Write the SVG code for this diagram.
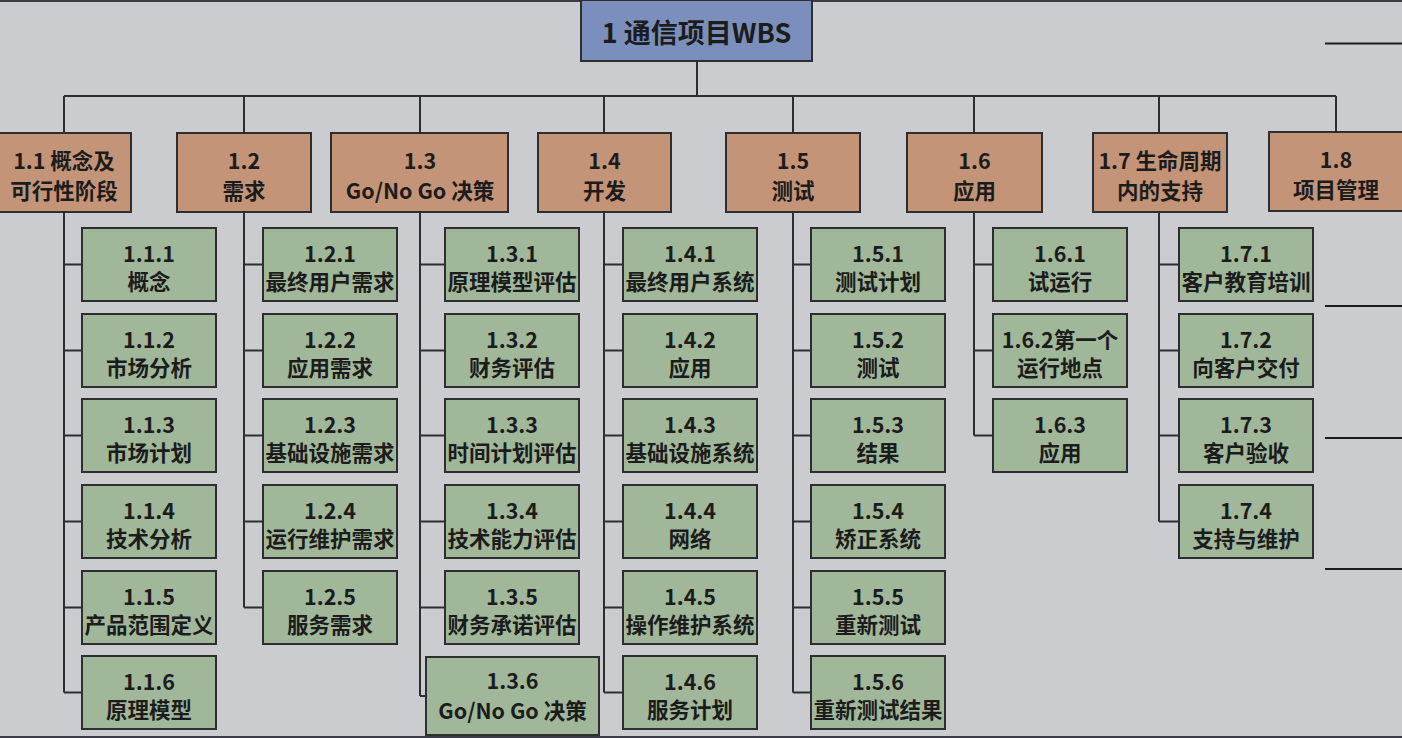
<svg xmlns="http://www.w3.org/2000/svg" width="1402" height="738" viewBox="0 0 1402 738">
<style>
.bg{fill:#cbccd0}
.box{stroke:#2e2e30;stroke-width:2}
.top{fill:#7a8fbb}
.l2{fill:#c49478}
.l3{fill:#a0b79a}
.c{fill:none;stroke:#2e2e30;stroke-width:2}
.rl{fill:none;stroke:#1c1c1e;stroke-width:2}
text{font-family:"Noto Sans CJK SC","Noto Sans",sans-serif;font-weight:bold;fill:#1c1c1c;text-anchor:middle;dominant-baseline:central}
.t2{font-size:21.5px}
.t3{font-size:21.5px}
.t1{font-size:27px}
</style>
<rect class="bg" x="0" y="0" width="1402" height="738"/>
<rect x="0" y="0" width="1402" height="2" fill="#3a3d48"/>
<rect x="0" y="736" width="1402" height="2" fill="#3a3d48"/>

<g id="connectors">
<path class="c" d="M697 61V96M64 96H1336M64 96V133M244 96V133M420 96V133M604 96V133M793 96V133M974 96V133M1159 96V133M1336 96V133"/>
<path class="c" d="M64 212V692.5M64 264.5H82M64 350.5H82M64 435.5H82M64 521.5H82M64 607.5H82M64 692.5H82"/>
<path class="c" d="M244 212V607.5M244 264.5H263M244 350.5H263M244 435.5H263M244 521.5H263M244 607.5H263"/>
<path class="c" d="M420 212V696M420 264.5H445M420 350.5H445M420 435.5H445M420 521.5H445M420 607.5H445M420 696H426"/>
<path class="c" d="M604 212V692.5M604 264.5H623M604 350.5H623M604 435.5H623M604 521.5H623M604 607.5H623M604 692.5H623"/>
<path class="c" d="M793 212V692.5M793 264.5H811M793 350.5H811M793 435.5H811M793 521.5H811M793 607.5H811M793 692.5H811"/>
<path class="c" d="M974 212V435.5M974 264.5H993M974 350.5H993M974 435.5H993"/>
<path class="c" d="M1159 212V521.5M1159 264.5H1179M1159 350.5H1179M1159 435.5H1179M1159 521.5H1179"/>
<path class="rl" d="M1325 43.5H1402M1325 306H1402M1325 438H1402M1325 569H1402"/>
</g>

<g id="n1"><rect class="box top" x="581" y="0" width="231" height="61"/><text class="t1" x="696.5" y="31">1 通信项目WBS</text></g>

<g id="n1.1"><rect class="box l2" x="-3" y="133" width="134" height="79"/><text class="t2" x="64" y="159">1.1 概念及</text><text class="t2" x="64" y="189">可行性阶段</text></g>
<g id="n1.2"><rect class="box l2" x="177" y="133" width="134" height="79"/><text class="t2" x="244" y="159">1.2</text><text class="t2" x="244" y="189">需求</text></g>
<g id="n1.3"><rect class="box l2" x="331" y="133" width="177" height="79"/><text class="t2" x="420" y="159">1.3</text><text class="t2" x="420" y="189">Go/No Go 决策</text></g>
<g id="n1.4"><rect class="box l2" x="538" y="133" width="133" height="79"/><text class="t2" x="604.5" y="159">1.4</text><text class="t2" x="604.5" y="189">开发</text></g>
<g id="n1.5"><rect class="box l2" x="726" y="133" width="134" height="79"/><text class="t2" x="793" y="159">1.5</text><text class="t2" x="793" y="189">测试</text></g>
<g id="n1.6"><rect class="box l2" x="907" y="133" width="135" height="79"/><text class="t2" x="974.5" y="159">1.6</text><text class="t2" x="974.5" y="189">应用</text></g>
<g id="n1.7"><rect class="box l2" x="1093" y="133" width="134" height="79"/><text class="t2" x="1160" y="159">1.7 生命周期</text><text class="t2" x="1160" y="189">内的支持</text></g>
<g id="n1.8"><rect class="box l2" x="1269" y="132" width="136" height="79"/><text class="t2" x="1336" y="158">1.8</text><text class="t2" x="1336" y="188">项目管理</text></g>

<g id="n1.1.1"><rect class="box l3" x="82" y="228" width="134" height="73"/><text class="t3" x="149" y="252">1.1.1</text><text class="t3" x="149" y="280">概念</text></g>
<g id="n1.1.2"><rect class="box l3" x="82" y="314" width="134" height="73"/><text class="t3" x="149" y="338">1.1.2</text><text class="t3" x="149" y="366">市场分析</text></g>
<g id="n1.1.3"><rect class="box l3" x="82" y="399" width="134" height="73"/><text class="t3" x="149" y="423">1.1.3</text><text class="t3" x="149" y="451">市场计划</text></g>
<g id="n1.1.4"><rect class="box l3" x="82" y="485" width="134" height="73"/><text class="t3" x="149" y="509">1.1.4</text><text class="t3" x="149" y="537">技术分析</text></g>
<g id="n1.1.5"><rect class="box l3" x="82" y="571" width="134" height="73"/><text class="t3" x="149" y="595">1.1.5</text><text class="t3" x="149" y="623">产品范围定义</text></g>
<g id="n1.1.6"><rect class="box l3" x="82" y="656" width="134" height="73"/><text class="t3" x="149" y="680">1.1.6</text><text class="t3" x="149" y="708">原理模型</text></g>

<g id="n1.2.1"><rect class="box l3" x="263" y="228" width="134" height="73"/><text class="t3" x="330" y="252">1.2.1</text><text class="t3" x="330" y="280">最终用户需求</text></g>
<g id="n1.2.2"><rect class="box l3" x="263" y="314" width="134" height="73"/><text class="t3" x="330" y="338">1.2.2</text><text class="t3" x="330" y="366">应用需求</text></g>
<g id="n1.2.3"><rect class="box l3" x="263" y="399" width="134" height="73"/><text class="t3" x="330" y="423">1.2.3</text><text class="t3" x="330" y="451">基础设施需求</text></g>
<g id="n1.2.4"><rect class="box l3" x="263" y="485" width="134" height="73"/><text class="t3" x="330" y="509">1.2.4</text><text class="t3" x="330" y="537">运行维护需求</text></g>
<g id="n1.2.5"><rect class="box l3" x="263" y="571" width="134" height="73"/><text class="t3" x="330" y="595">1.2.5</text><text class="t3" x="330" y="623">服务需求</text></g>

<g id="n1.3.1"><rect class="box l3" x="445" y="228" width="134" height="73"/><text class="t3" x="512" y="252">1.3.1</text><text class="t3" x="512" y="280">原理模型评估</text></g>
<g id="n1.3.2"><rect class="box l3" x="445" y="314" width="134" height="73"/><text class="t3" x="512" y="338">1.3.2</text><text class="t3" x="512" y="366">财务评估</text></g>
<g id="n1.3.3"><rect class="box l3" x="445" y="399" width="134" height="73"/><text class="t3" x="512" y="423">1.3.3</text><text class="t3" x="512" y="451">时间计划评估</text></g>
<g id="n1.3.4"><rect class="box l3" x="445" y="485" width="134" height="73"/><text class="t3" x="512" y="509">1.3.4</text><text class="t3" x="512" y="537">技术能力评估</text></g>
<g id="n1.3.5"><rect class="box l3" x="445" y="571" width="134" height="73"/><text class="t3" x="512" y="595">1.3.5</text><text class="t3" x="512" y="623">财务承诺评估</text></g>
<g id="n1.3.6"><rect class="box l3" x="426" y="657" width="173" height="78"/><text class="t3" x="512.5" y="679">1.3.6</text><text class="t3" x="512.5" y="709">Go/No Go 决策</text></g>

<g id="n1.4.1"><rect class="box l3" x="623" y="228" width="134" height="73"/><text class="t3" x="690" y="252">1.4.1</text><text class="t3" x="690" y="280">最终用户系统</text></g>
<g id="n1.4.2"><rect class="box l3" x="623" y="314" width="134" height="73"/><text class="t3" x="690" y="338">1.4.2</text><text class="t3" x="690" y="366">应用</text></g>
<g id="n1.4.3"><rect class="box l3" x="623" y="399" width="134" height="73"/><text class="t3" x="690" y="423">1.4.3</text><text class="t3" x="690" y="451">基础设施系统</text></g>
<g id="n1.4.4"><rect class="box l3" x="623" y="485" width="134" height="73"/><text class="t3" x="690" y="509">1.4.4</text><text class="t3" x="690" y="537">网络</text></g>
<g id="n1.4.5"><rect class="box l3" x="623" y="571" width="134" height="73"/><text class="t3" x="690" y="595">1.4.5</text><text class="t3" x="690" y="623">操作维护系统</text></g>
<g id="n1.4.6"><rect class="box l3" x="623" y="656" width="134" height="73"/><text class="t3" x="690" y="680">1.4.6</text><text class="t3" x="690" y="708">服务计划</text></g>

<g id="n1.5.1"><rect class="box l3" x="811" y="228" width="134" height="73"/><text class="t3" x="878" y="252">1.5.1</text><text class="t3" x="878" y="280">测试计划</text></g>
<g id="n1.5.2"><rect class="box l3" x="811" y="314" width="134" height="73"/><text class="t3" x="878" y="338">1.5.2</text><text class="t3" x="878" y="366">测试</text></g>
<g id="n1.5.3"><rect class="box l3" x="811" y="399" width="134" height="73"/><text class="t3" x="878" y="423">1.5.3</text><text class="t3" x="878" y="451">结果</text></g>
<g id="n1.5.4"><rect class="box l3" x="811" y="485" width="134" height="73"/><text class="t3" x="878" y="509">1.5.4</text><text class="t3" x="878" y="537">矫正系统</text></g>
<g id="n1.5.5"><rect class="box l3" x="811" y="571" width="134" height="73"/><text class="t3" x="878" y="595">1.5.5</text><text class="t3" x="878" y="623">重新测试</text></g>
<g id="n1.5.6"><rect class="box l3" x="811" y="656" width="134" height="73"/><text class="t3" x="878" y="680">1.5.6</text><text class="t3" x="878" y="708">重新测试结果</text></g>

<g id="n1.6.1"><rect class="box l3" x="993" y="228" width="134" height="73"/><text class="t3" x="1060" y="252">1.6.1</text><text class="t3" x="1060" y="280">试运行</text></g>
<g id="n1.6.2"><rect class="box l3" x="993" y="314" width="134" height="73"/><text class="t3" x="1060" y="338">1.6.2第一个</text><text class="t3" x="1060" y="366">运行地点</text></g>
<g id="n1.6.3"><rect class="box l3" x="993" y="399" width="134" height="73"/><text class="t3" x="1060" y="423">1.6.3</text><text class="t3" x="1060" y="451">应用</text></g>

<g id="n1.7.1"><rect class="box l3" x="1179" y="228" width="134" height="73"/><text class="t3" x="1246" y="252">1.7.1</text><text class="t3" x="1246" y="280">客户教育培训</text></g>
<g id="n1.7.2"><rect class="box l3" x="1179" y="314" width="134" height="73"/><text class="t3" x="1246" y="338">1.7.2</text><text class="t3" x="1246" y="366">向客户交付</text></g>
<g id="n1.7.3"><rect class="box l3" x="1179" y="399" width="134" height="73"/><text class="t3" x="1246" y="423">1.7.3</text><text class="t3" x="1246" y="451">客户验收</text></g>
<g id="n1.7.4"><rect class="box l3" x="1179" y="485" width="134" height="73"/><text class="t3" x="1246" y="509">1.7.4</text><text class="t3" x="1246" y="537">支持与维护</text></g>
</svg>
